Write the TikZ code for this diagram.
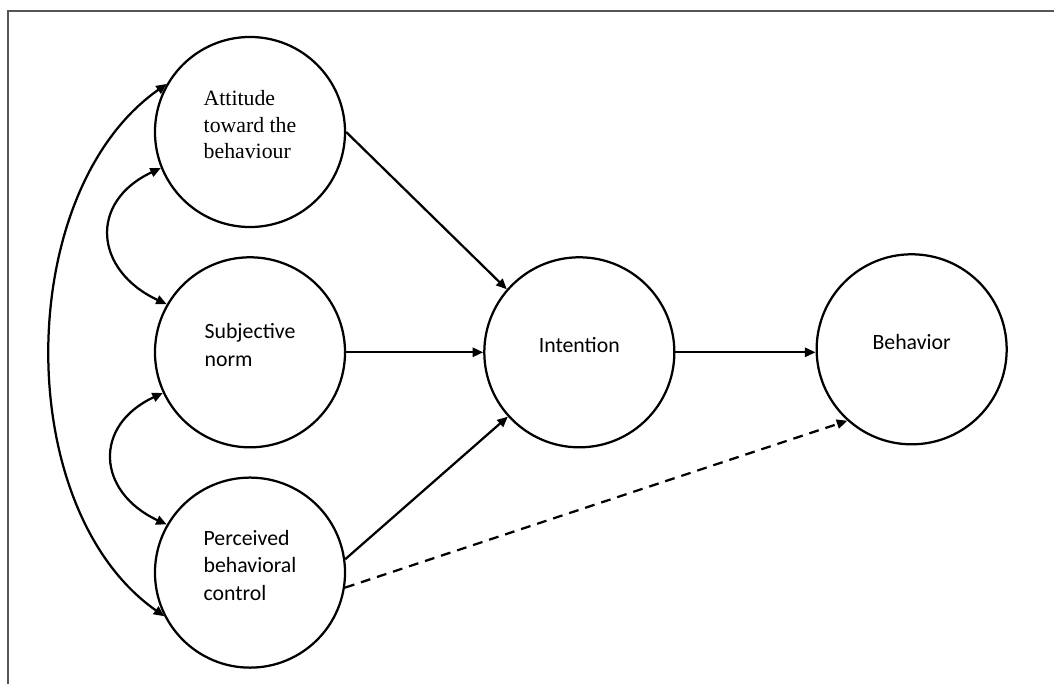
\documentclass[tikz,border=0pt]{standalone}
\usepackage{fontspec}
\setmainfont{Carlito}
\newfontfamily\serifface{Liberation Serif}
\usepackage{tikz}
\usetikzlibrary{
  arrows.meta,
  positioning
}
\definecolor{framegray}{RGB}{85,85,85}
\tikzset{
  construct/.style={draw,circle,line width=1.6pt,minimum size=4.75cm,
    inner sep=0pt},
  constructtext/.style={align=left,yshift=0.18cm,
    font=\fontsize{15.5}{19.5}\selectfont},
  effect/.style={-{Triangle[length=7.5pt,width=6.5pt]},line width=1.6pt},
  directeffect/.style={-{Triangle[length=7.5pt,width=6.5pt]},line width=1.6pt,
    dash pattern=on 7pt off 5pt},
  covary/.style={{Triangle[length=7.5pt,width=6.5pt]}-{Triangle[length=7.5pt,width=6.5pt]},
    line width=1.6pt}
}

\begin{document}
\begin{tikzpicture}[x=0.025cm,y=-0.025cm,node distance=0.7cm and 3.425cm]
  \useasboundingbox (0,0) rectangle (1054,684);
  \draw[framegray,line width=0.9pt] (8,684) -- (8,11) -- (1054,11);

  \node[construct,label={[constructtext,font=\serifface\fontsize{15.5}{19}\selectfont]
    center:{Attitude\\toward the\\behaviour}}] (att) at (250,132) {};
  \node[construct,below=of att,
    label={[constructtext]center:{Subjective\\norm}}] (sub) {};
  \node[construct,below=of sub,
    label={[constructtext]center:{Perceived\\behavioral\\control}}] (pbc) {};
  \node[construct,right=of sub,
    label={[constructtext]center:Intention}] (int) {};
  \node[construct,right=3.5cm of int,yshift=0.075cm,
    label={[constructtext]center:Behavior}] (beh) {};

  \draw[effect] (att.east) -- (int.139);
  \draw[effect] (sub.east) -- (int.west);
  \draw[effect] (pbc.8) -- (int.222);
  \draw[effect] (int.east) -- (int.east -| beh.west);
  \draw[directeffect] (pbc.-9) -- (beh.228);

  \draw[covary] (att.202) to[out=205,in=155,looseness=1.5] (sub.150);
  \draw[covary] (sub.205) to[out=205,in=155,looseness=1.5] (pbc.150);
  \draw[covary] (att.150) to[out=215,in=145,looseness=0.9] (pbc.207);
\end{tikzpicture}
\end{document}
